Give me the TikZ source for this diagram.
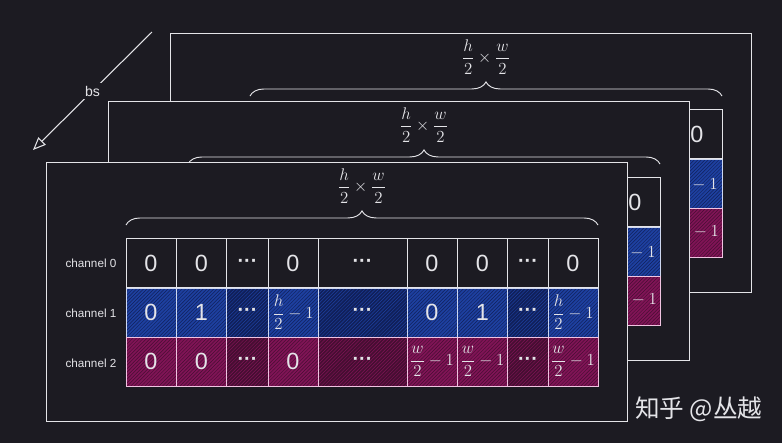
\documentclass[tikz,border=0pt]{standalone}
\usepackage{amsmath}
\usepackage{fontspec}
\setmainfont{Liberation Sans}
\newfontfamily\cjkfont{Noto Sans CJK SC}
\usetikzlibrary{arrows.meta,positioning,decorations.pathreplacing,patterns}
\definecolor{bgdark}{RGB}{28,27,34}
\definecolor{ink}{RGB}{228,228,232}
\definecolor{chblue}{RGB}{30,64,160}
\definecolor{chbluedk}{RGB}{16,32,90}
\definecolor{chred}{RGB}{128,20,86}
\definecolor{chreddk}{RGB}{70,14,50}
\definecolor{blueedge}{RGB}{205,215,240}
\definecolor{rededge}{RGB}{240,195,225}
\DeclareRobustCommand{\hless}{{\fontsize{15}{18}\selectfont$\dfrac{h}{2}-1$}}
\DeclareRobustCommand{\wless}{{\fontsize{15}{18}\selectfont$\dfrac{w}{2}-1$}}
% text of a cell: last column always, the rest only on the front map
\newcommand{\celltext}[3]{\ifnum#1=9 #3\else\ifnum#2=1 #3\fi\fi}

\begin{document}
\begin{tikzpicture}[x=0.03cm, y=-0.03cm,
  every node/.style={text=ink},
  mapframe/.style={draw=ink, fill=bgdark, line width=0.9pt, anchor=north west,
                   minimum width=17.43cm, minimum height=7.77cm, inner sep=0pt},
  chrow/.style={draw=ink, line width=0.8pt, minimum width=14.16cm,
                minimum height=1.47cm, inner sep=0pt},
  chrowblue/.style={chrow, draw=blueedge, preaction={fill=chbluedk},
                    pattern=north east lines, pattern color=chblue},
  chrowred/.style={chrow, draw=rededge, preaction={fill=chreddk},
                   pattern=north east lines, pattern color=chred},
  numcell/.style={draw=ink, line width=0.8pt, minimum height=1.47cm,
                  minimum width=1.5cm, inner sep=0pt,
                  font=\fontsize{20}{24}\selectfont},
  numcellblue/.style={numcell, draw=blueedge, preaction={fill=chblue},
                      pattern=north east lines, pattern color=chbluedk},
  numcellred/.style={numcell, draw=rededge, preaction={fill=chred},
                     pattern=north east lines, pattern color=chreddk},
  dotsmark/.style={inner sep=0pt, font=\bfseries\fontsize{17}{20}\selectfont},
  chname/.style={font=\fontsize{10}{12}\selectfont},
  sizelabel/.style={font=\fontsize{14}{16}\selectfont},
  sizebrace/.style={draw=ink, line width=0.8pt, decorate,
                    decoration={brace, amplitude=12pt}},
  bsarrow/.style={draw=ink, line width=0.9pt,
                  -{Triangle[open, length=11pt, width=9pt]}},
]

%% Background
\fill[bgdark] (0,0) rectangle (782,443);

%% Batch arrow
\coordinate (bstail) at (152,32);
\coordinate (bshead) at (33,150);
\draw[bsarrow] (bstail) -- node[fill=bgdark, inner sep=2pt,
  font=\fontsize{12}{14}\selectfont] (bslabel) {bs} (bshead);

%% Feature maps, back to front
\foreach \lay/\sx/\sy/\vis in {back/124/-129/0, mid/62/-61/0, front/0/0/1} {
  \begin{scope}[shift={(\sx,\sy)}]
    \node[mapframe] (\lay-frame) at (46,162) {};

    %% Channel rows
    \node[chrow]     (\lay-row0) at (362,263) {};
    \node[chrowblue] (\lay-row1) at (362,312.5) {};
    \node[chrowred]  (\lay-row2) at (362,361.5) {};

    %% Cells
    \foreach \cn/\cx/\ct in {1/151/0, 2/201.5/0, 4/293/0, 6/432/0, 7/482.5/0, 9/573/0}
      \node[numcell] (\lay-a\cn) at (\cx,263) {\celltext{\cn}{\vis}{\ct}};
    \foreach \cn/\cx/\ct in {1/151/0, 2/201.5/1, 4/293/\hless, 6/432/0, 7/482.5/1, 9/573/\hless}
      \node[numcellblue] (\lay-b\cn) at (\cx,312.5) {\celltext{\cn}{\vis}{\ct}};
    \foreach \cn/\cx/\ct in {1/151/0, 2/201.5/0, 4/293/0, 6/432/\wless, 7/482.5/\wless, 9/573/\wless}
      \node[numcellred] (\lay-c\cn) at (\cx,361.5) {\celltext{\cn}{\vis}{\ct}};

    %% Dots (only seen on the front map)
    \ifnum\vis=1
      \foreach \rn/\ry in {0/263, 1/312.5, 2/361.5}
        \foreach \dn/\dx in {3/247.5, 5/362.5, 8/528}
          \node[dotsmark] (\lay-d\rn\dn) at (\dx,\ry) {···};
    \fi

    %% Size brace
    \coordinate (\lay-bl) at (126,225);
    \coordinate (\lay-br) at (598,225);
    \draw[sizebrace] (\lay-bl) -- (\lay-br);
    \node[sizelabel] (\lay-dim) at (362,186) {$\dfrac{h}{2}\times\dfrac{w}{2}$};
  \end{scope}
}

%% Channel names
\node[chname] (ch0) at (91,263) {channel 0};
\node[chname] (ch1) at (91,313) {channel 1};
\node[chname] (ch2) at (91,363) {channel 2};

%% Watermark
\node[font=\cjkfont\fontsize{21}{25}\selectfont, anchor=west, inner sep=0pt]
  (mark) at (635,409) {知乎 @丛越};

\end{tikzpicture}
\end{document}
